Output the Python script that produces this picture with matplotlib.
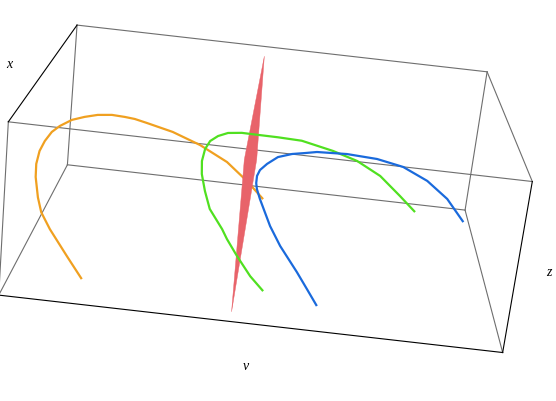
import matplotlib
matplotlib.use("Agg")
import matplotlib.pyplot as plt
from mpl_toolkits.mplot3d.art3d import Poly3DCollection

# ---- data (box-normalised coordinates: x = long axis, y = depth, z = height) ----
orange_x = [0.120, 0.082, 0.038, 0.015, 0.004, -0.006, -0.008, -0.004, 0.005, 0.018, 0.034, 0.059,
            0.086, 0.114, 0.145, 0.174, 0.196, 0.223, 0.282, 0.345, 0.408, 0.456, 0.496]
orange_y = [0.394, 0.411, 0.432, 0.445, 0.457, 0.474, 0.485, 0.496, 0.505, 0.513, 0.518, 0.525,
            0.528, 0.531, 0.533, 0.532, 0.531, 0.529, 0.524, 0.516, 0.504, 0.491, 0.477]
orange_z = [-0.242, -0.119, 0.026, 0.118, 0.202, 0.318, 0.394, 0.471, 0.532, 0.589, 0.629, 0.672,
            0.698, 0.718, 0.727, 0.724, 0.719, 0.704, 0.669, 0.611, 0.531, 0.434, 0.340]

green_x = [0.519, 0.487, 0.453, 0.427, 0.414, 0.382, 0.367, 0.356, 0.353, 0.357, 0.366, 0.382,
           0.403, 0.433, 0.462, 0.513, 0.566, 0.637, 0.692, 0.746, 0.794, 0.831]
green_y = [0.401, 0.412, 0.428, 0.441, 0.448, 0.464, 0.478, 0.492, 0.503, 0.513, 0.520, 0.525,
           0.529, 0.530, 0.530, 0.530, 0.529, 0.524, 0.518, 0.507, 0.493, 0.481]
green_z = [-0.192, -0.114, -0.006, 0.085, 0.140, 0.248, 0.349, 0.445, 0.520, 0.592, 0.641, 0.675,
           0.699, 0.709, 0.708, 0.707, 0.703, 0.664, 0.622, 0.551, 0.448, 0.365]

blue_x = [0.640, 0.614, 0.588, 0.545, 0.518, 0.504, 0.489, 0.480, 0.477, 0.477, 0.482, 0.496,
          0.518, 0.548, 0.576, 0.602, 0.668, 0.735, 0.794, 0.850, 0.898, 0.939]
blue_y = [0.394, 0.407, 0.420, 0.440, 0.455, 0.466, 0.477, 0.485, 0.490, 0.496, 0.501, 0.507,
          0.513, 0.517, 0.519, 0.521, 0.522, 0.521, 0.517, 0.508, 0.495, 0.477]
blue_z = [-0.243, -0.151, -0.060, 0.080, 0.189, 0.261, 0.339, 0.394, 0.428, 0.470, 0.506, 0.546,
          0.593, 0.620, 0.634, 0.648, 0.656, 0.647, 0.618, 0.553, 0.462, 0.339]

plane_x = [0.462, 0.471, 0.454, 0.444]
plane_y = [0.596, 0.510, 0.381, 0.508]
plane_z = [1.169, 0.567, -0.329, 0.559]

axis_labels = ["x", "v", "z"]

# ---- figure ----
W, H, DPI = 556, 402, 100
fig = plt.figure(figsize=(W / DPI, H / DPI), dpi=DPI)
fig.patch.set_facecolor("white")
S = 596.0
cx, cy = 268.0, H - 173.0
frac = 0.095 / 0.185
rect = [(cx - frac * S) / W, (cy - frac * S) / H, S / W, S / H]
ax = fig.add_axes(rect, projection="3d", computed_zorder=False)
ax.set_proj_type("persp", focal_length=0.465)
ax.view_init(elev=18.4, azim=-90, roll=-6.5)
ax.set_box_aspect((2.79, 2.32, 1.0))
ax.set_xlim(0, 1)
ax.set_ylim(0, 1)
ax.set_zlim(0, 1)
ax.set_axis_off()

# box edges
lo, hi = 0, 1
gray_edges = [
    ((lo, lo, hi), (hi, lo, hi)),
    ((lo, lo, lo), (lo, lo, hi)),
    ((lo, hi, lo), (lo, hi, hi)),
    ((hi, hi, lo), (hi, hi, hi)),
    ((lo, hi, hi), (hi, hi, hi)),
    ((lo, hi, lo), (hi, hi, lo)),
    ((lo, lo, lo), (lo, hi, lo)),
    ((hi, lo, hi), (hi, hi, hi)),
    ((hi, lo, lo), (hi, hi, lo)),
]
black_edges = [
    ((lo, lo, hi), (lo, hi, hi)),   # x axis edge
    ((lo, lo, lo), (hi, lo, lo)),   # v axis edge
    ((hi, lo, lo), (hi, lo, hi)),   # z axis edge
]
for a, b in gray_edges:
    ax.plot([a[0], b[0]], [a[1], b[1]], [a[2], b[2]], color="#6e6e6e", lw=0.8, zorder=1)
for a, b in black_edges:
    ax.plot([a[0], b[0]], [a[1], b[1]], [a[2], b[2]], color="black", lw=0.8, zorder=1)

# orange curve passes behind the red plane
ax.plot(orange_x, orange_y, orange_z, color="#f0a020", lw=1.6, zorder=2,
        solid_capstyle="butt", solid_joinstyle="round")

# red plane
verts = [list(zip(plane_x, plane_y, plane_z))]
poly = Poly3DCollection(verts, facecolor="#e8636a", edgecolor="#e8636a", lw=0.3, zorder=3)
ax.add_collection3d(poly)

# green and blue curves
for xs, ys, zs, col in [(green_x, green_y, green_z, "#50e020"),
                        (blue_x, blue_y, blue_z, "#1a6adc")]:
    ax.plot(xs, ys, zs, color=col, lw=1.6, zorder=4,
            solid_capstyle="butt", solid_joinstyle="round")

# axis labels
lab_font = dict(family="Liberation Serif", style="italic", size=10, color="black")
fig.text(9 / W, 1 - 65 / H, axis_labels[0], ha="center", va="center", **lab_font)
fig.text(246 / W, 1 - 367 / H, axis_labels[1], ha="center", va="center", **lab_font)
fig.text(549 / W, 1 - 273 / H, axis_labels[2], ha="center", va="center", **lab_font)

fig.savefig("out.png", dpi=DPI, facecolor="white")
